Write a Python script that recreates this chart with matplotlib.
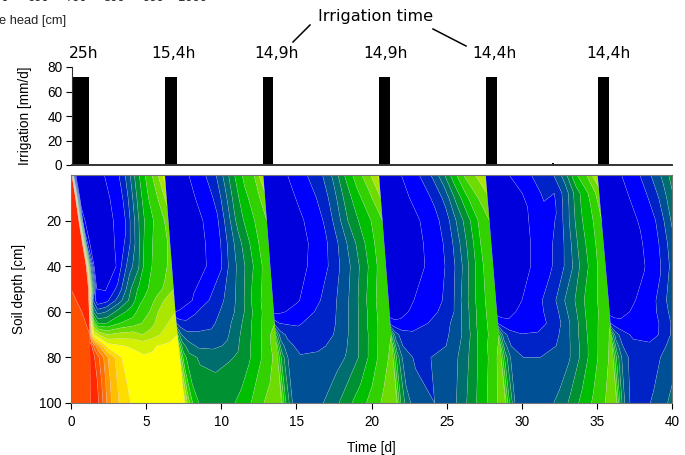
import numpy as np
import matplotlib
matplotlib.use("Agg")
import matplotlib.pyplot as plt
from matplotlib.colors import ListedColormap

plt.rcParams['font.family'] = ['Liberation Sans', 'DejaVu Sans']

# irrigation events
irr_start = [0.05, 6.2, 12.7, 20.45, 27.6, 32.0, 35.05]
irr_dur = [1.1, 0.78, 0.73, 0.73, 0.73, 0.1, 0.78]
irr_rate = [72, 72, 72, 72, 72, 2, 72]
irr_labels = ['25h', '15,4h', '14,9h', '14,9h', '14,4h', '14,4h']
irr_label_x = [0.8, 6.75, 13.65, 20.9, 28.15, 35.8]

legend_ticks = ['500', '600', '700', '800', '900', '1000']
legend_x = [-12, 27, 65, 103, 142, 178]

band_colors = ['#0000dc', '#0000ff', '#0023c8', '#005096', '#006e6e', '#009132',
               '#00be00', '#32d200', '#6edc00', '#aae600', '#d2f000', '#ffff00',
               '#ffdc00', '#ffbe00', '#ff9600', '#ff6e00', '#ff5000', '#ff2800']
levels = np.arange(0, 19)

# wetting front position [d] at depth 0, 60, 100
front_depth = [0, 60, 100]
fronts = [[6.25, 6.95, 7.55], [12.8, 13.5, 14.0], [20.5, 21.2, 21.67],
          [27.6, 28.35, 28.9], [35.05, 35.85, 36.3], [42.25, 43.0, 43.5]]

# first front, drier soil to the left of it
first_depth = [0, 10, 20, 30, 40, 50, 55, 60, 65, 70, 80, 100]
first_front = [0.05, 0.3, 0.5, 0.75, 1.0, 1.15, 1.18, 1.2, 1.22, 1.25, 1.27, 1.3]

# dry wedge left of the first front
wedge_depth = [0, 40, 50, 60, 70, 80, 100]
wedge_frac = [0, 0.5, 1]
wedge = [[17.5, 17.5, 17.5],
         [17.5, 17.5, 17.5],
         [17, 17.5, 17.5],
         [16.5, 16.9, 17.4],
         [16.5, 16.5, 17],
         [16.5, 16.5, 16.9],
         [16.5, 16.5, 16.9]]

frac0 = [0, .02, .05, .1, .2, .35, .5, .6, .7, .8, .9, 1]
depth0 = [0, 10, 20, 30, 40, 50, 55, 60, 65, 70, 75, 80, 90, 100]
cycle0 = [[17, 4, .3, .3, .5, 1, 1.9, 3.4, 5.6, 7.2, 8.5, 10.5],
          [17, 6, .6, .35, .4, .85, 1.7, 3.4, 5.6, 7, 8, 9.3],
          [17, 8, 1.5, .4, .4, .8, 1.6, 3.5, 5.6, 6.8, 7.4, 8.5],
          [16, 9, 2.5, .45, .5, .85, 2.2, 4, 6, 7, 7.5, 8.2],
          [17, 11, 5, .5, .6, 1, 3.5, 4.7, 6.6, 7.2, 7.6, 8.5],
          [17, 12, 6, 1, .9, 2.3, 5, 6.3, 7, 7.6, 8.2, 9],
          [16, 10, 3, 1.2, 1.6, 3.5, 5.5, 6.8, 7.5, 8.3, 9.2, 9.7],
          [16, 10, 5, 3.5, 4, 5.5, 6.5, 7.5, 8, 9, 9.7, 10],
          [16, 12, 8, 6, 6, 7, 7.5, 8, 8.5, 9.5, 10, 10.5],
          [16, 13, 11, 10, 9, 9.4, 9.5, 9, 9.5, 10, 10.4, 11],
          [17.5, 17, 15.5, 14, 11.6, 11.1, 10.8, 10.7, 10.9, 11.1, 11.3, 11.5],
          [17.5, 17.5, 17, 16, 14, 12, 11.4, 11.1, 11.1, 11.3, 11.5, 11.5],
          [17.5, 17.5, 17.5, 16.5, 14.2, 12.2, 11.5, 11.5, 11.5, 11.5, 11.5, 11.5],
          [17.5, 17.5, 17.5, 16.8, 14.3, 12.4, 11.6, 11.5, 11.5, 11.5, 11.5, 11.5]]

frac = [0, .04, .1, .2, .35, .5, .6, .7, .8, .9, 1]
depth = [0, 10, 20, 30, 40, 55, 60, 65, 70, 75, 80, 100]
cycle1 = [[.2, .2, .4, .8, 1.5, 2.7, 4.2, 5.9, 7.2, 7.9, 10],
          [.2, .2, .35, .7, 1.2, 2.2, 3.8, 5.6, 6.8, 7.5, 8.6],
          [.2, .2, .3, .6, 1, 1.9, 3.5, 5.3, 6.4, 7.2, 8],
          [.2, .2, .3, .55, .95, 1.8, 3.3, 4.7, 5.9, 7, 8],
          [.2, .2, .3, .6, 1, 1.9, 3.4, 4.5, 5.7, 6.8, 8],
          [.4, .4, .6, 1.1, 2, 3, 3.8, 4.9, 6.3, 7.2, 8],
          [1, 1.1, 1.4, 1.9, 2.6, 3.2, 4, 5, 6.2, 7.2, 8],
          [3, 2.4, 2.2, 2.4, 2.8, 3.5, 4.4, 5.3, 6.4, 7.3, 8],
          [6, 4, 3.3, 3.2, 3.2, 3.8, 4.7, 5.5, 6.5, 7.4, 8.7],
          [8, 5.5, 4.5, 3.8, 3.7, 4.2, 4.9, 5.7, 6.6, 7.5, 8.7],
          [9, 6.5, 5.3, 4.9, 4.8, 4.9, 5.1, 5.8, 6.7, 7.5, 8.5],
          [10.5, 8.5, 6.5, 5.5, 5.4, 5.9, 6.4, 7.1, 7.9, 8.4, 9]]

cycle2 = [[.3, .3, .5, .95, 1.8, 2.85, 4.15, 6, 7.4, 8.55, 10.3],
          [.2, .2, .4, .75, 1.35, 2.4, 3.7, 5.4, 6.7, 7.7, 9],
          [.2, .2, .3, .6, 1.1, 2.1, 3.4, 5, 6.1, 7, 8],
          [.2, .2, .28, .55, 1.02, 1.9, 3, 4.3, 5.6, 6.8, 8],
          [.2, .2, .3, .6, 1.1, 2, 3, 4.1, 5.4, 6.7, 8],
          [.3, .3, .45, .85, 1.6, 2.6, 3.4, 4.5, 5.9, 7.1, 8],
          [.7, .8, 1, 1.4, 2, 2.7, 3.5, 4.6, 5.9, 7.1, 8],
          [2.5, 2, 1.9, 1.9, 2.3, 2.8, 3.6, 4.7, 6, 7.1, 8],
          [6, 3.5, 2.8, 2.3, 2.5, 3, 3.7, 4.8, 6, 7.2, 8],
          [7.5, 4.5, 3.3, 2.7, 2.8, 3.2, 3.9, 4.9, 6.1, 7.3, 8.2],
          [8, 5.5, 3.7, 3.1, 3.2, 3.5, 4.1, 5, 6.2, 7.4, 8.4],
          [8.5, 6, 3.9, 3.3, 3.9, 5, 5.9, 6.7, 7.5, 8.3, 8.9]]

cycle3 = [[.3, .3, .5, .95, 1.75, 3.15, 4.7, 6.6, 8.1, 9, 10],
          [.2, .2, .4, .75, 1.3, 2.2, 3.3, 5.2, 6.8, 7.9, 8.8],
          [.2, .2, .3, .6, 1, 1.75, 2.6, 4.2, 5.7, 7.1, 8],
          [.2, .2, .28, .55, .93, 1.6, 2.4, 3.9, 5.5, 7, 8],
          [.2, .2, .3, .55, .95, 1.6, 2.4, 3.8, 5.5, 6.9, 8],
          [.3, .3, .45, .85, 1.5, 2, 2.85, 4.4, 5.9, 7, 8],
          [.5, .55, .7, 1.1, 1.6, 2.2, 3, 4.4, 5.9, 7, 8],
          [1.5, 1.2, 1.2, 1.5, 2, 2.6, 3.3, 4.5, 6, 7, 8],
          [6, 3.5, 2.5, 2.2, 2.4, 2.8, 3.4, 4.5, 6, 7, 8],
          [7.5, 4.5, 3, 2.4, 2.5, 3, 3.7, 4.8, 6.1, 7.2, 8.2],
          [8, 5.5, 3.5, 2.9, 3, 3.3, 4, 5, 6.2, 7.2, 8.5],
          [8.5, 6, 4.3, 3.3, 3, 3.5, 4.5, 5.6, 6.7, 7.6, 8.9]]

depth4 = [0, 8, 14, 20, 30, 40, 55, 60, 65, 70, 75, 80, 100]
cycle4 = [[.3, .3, .5, .95, 1.75, 2.4, 2.9, 4.4, 6.8, 8, 10],
          [.2, .2, .35, .7, 1.1, 2.15, 2, 3.5, 5.6, 7, 8.5],
          [.2, .2, .3, .6, 1, 1.9, 1.95, 3.6, 5.7, 6.8, 8.2],
          [.2, .2, .3, .6, 1, 1.75, 2.05, 3.8, 5.7, 6.7, 8],
          [.2, .2, .28, .58, 1, 1.75, 2.3, 3.8, 5.6, 6.6, 8],
          [.2, .2, .3, .6, 1.05, 1.8, 2.6, 3.9, 5.5, 6.6, 8],
          [.3, .3, .45, .85, 1.6, 2.6, 3.9, 5, 6.2, 7, 8],
          [.5, .55, .7, 1.15, 1.7, 2.4, 3.7, 4.9, 6.2, 7, 8],
          [2, 1.4, 1.2, 1.3, 1.65, 2.3, 3.5, 4.8, 6.2, 7.1, 8],
          [6, 3.5, 2.5, 2.05, 2.1, 2.7, 3.6, 4.9, 6.2, 7.2, 8.2],
          [7.5, 4.5, 3, 2.4, 2.4, 3, 3.7, 4.9, 6.2, 7.3, 8.3],
          [8, 5.5, 3.5, 3, 3, 3.3, 3.8, 5, 6.3, 7.4, 8.4],
          [8.5, 6, 3.5, 3.2, 3.6, 4.3, 5.4, 6.4, 7.2, 8, 8.9]]

cycle5 = [[.3, .3, .5, .9, 1.6, 3.1, 4.2, 5.6, 7.2, 8.5, 10],
          [.2, .2, .4, .75, 1.25, 2.4, 3.7, 5.2, 6.8, 8, 8.9],
          [.2, .2, .3, .6, 1.05, 2, 3.3, 5, 6.5, 7.5, 8],
          [.2, .2, .28, .52, .93, 1.85, 3.1, 4.6, 6.1, 7.1, 8],
          [.2, .2, .3, .5, .9, 1.85, 3.1, 4.5, 6, 7, 8],
          [.3, .3, .45, .8, 1.4, 2.4, 4, 5, 6.2, 7, 8],
          [.5, .55, .7, 1.05, 1.6, 2.3, 3.8, 4.9, 6.2, 7, 8],
          [2, 1.4, 1.2, 1.2, 1.6, 2.2, 3.5, 4.8, 6.2, 7.1, 8],
          [6, 3.5, 2.5, 1.8, 1.4, 2.4, 3.6, 4.9, 6.2, 7.2, 8.2],
          [7.5, 4.5, 3, 2.3, 2.3, 3, 3.8, 4.9, 6.2, 7.3, 8.3],
          [8, 5.5, 3.3, 2.6, 2.7, 3.2, 3.9, 5, 6.3, 7.4, 8.4],
          [8.5, 5.5, 3.1, 2.7, 3.1, 4.2, 5, 6, 7, 8, 8.9]]


def px_axes(fig, x0, x1, ytop, ybot):
    return fig.add_axes([x0 / 685, 1 - ybot / 455, (x1 - x0) / 685, (ybot - ytop) / 455])


def draw_cycle(ax, rows, fracs, values, left, right):
    # every cycle gets its own mesh so the front stays a sharp edge
    rows = np.array(rows, dtype=float)
    left = np.array(left)[:, None]
    right = np.array(right)[:, None]
    X = left + np.array(fracs)[None, :] * (right - left)
    Y = np.repeat(rows[:, None], len(fracs), axis=1)
    Z = np.array(values)
    ax.contourf(X, Y, Z, levels=levels, cmap=cmap, vmin=0, vmax=18, antialiased=True)
    ax.contour(X, Y, Z, levels=levels, colors='#d0d0f0', linewidths=0.35, alpha=0.45)


cmap = ListedColormap(band_colors)
fig = plt.figure(figsize=(6.85, 4.55), dpi=100)

ax1 = px_axes(fig, 72, 672, 67, 165)
ax1.bar(irr_start, irr_rate, width=irr_dur, align='edge', color='black')
ax1.set_xlim(0, 40)
ax1.set_ylim(0, 80)
ax1.set_yticks([0, 20, 40, 60, 80])
ax1.set_xticks([])
ax1.tick_params(axis='y', labelsize=9.8, length=4, width=0.8, pad=3)
ax1.spines['top'].set_visible(False)
ax1.spines['right'].set_visible(False)
ax1.spines['left'].set_color('#333333')
ax1.spines['bottom'].set_color('#333333')
ax1.spines['bottom'].set_linewidth(1.4)
ax1.set_ylabel('Irrigation [mm/d]', fontsize=9.8, labelpad=11)
for x, lab in zip(irr_label_x, irr_labels):
    ax1.text(x, 85, lab, ha='center', va='bottom', fontsize=11.2, family='DejaVu Sans')

ax2 = px_axes(fig, 71, 672, 175, 403)
draw_cycle(ax2, wedge_depth, wedge_frac, wedge, [0] * 7, np.interp(wedge_depth, first_depth, first_front))
draw_cycle(ax2, depth0, frac0, cycle0, np.interp(depth0, first_depth, first_front),
           np.interp(depth0, front_depth, fronts[0]))
cycle_tables = [(depth, cycle1), (depth, cycle2), (depth, cycle3), (depth4, cycle4), (depth, cycle5)]
for i, (rows, table) in enumerate(cycle_tables):
    draw_cycle(ax2, rows, frac, table, np.interp(rows, front_depth, fronts[i]),
               np.interp(rows, front_depth, fronts[i + 1]))
ax2.set_xlim(0, 40)
ax2.set_ylim(100, 0)
ax2.set_xticks([0, 5, 10, 15, 20, 25, 30, 35, 40])
ax2.set_yticks([20, 40, 60, 80, 100])
ax2.tick_params(labelsize=9.8, length=4, width=0.8, pad=5)
ax2.tick_params(axis='y', pad=3)
for s in ax2.spines.values():
    s.set_color('#777777')
    s.set_linewidth(0.8)
ax2.set_ylabel('Soil depth [cm]', fontsize=9.8, labelpad=9)
ax2.set_xlabel('Time [d]', fontsize=9.8, labelpad=8)

# stray legend of the pressure head, cut by the page edge
for x, lab in zip(legend_x, legend_ticks):
    fig.text(x / 685, 1.004, lab, ha='left', va='center', fontsize=9.3, color='#222222')
fig.text(-1 / 685, 1 - 21 / 455, 'e head [cm]', ha='left', va='center', fontsize=9.3, color='#222222')

fig.text(375.5 / 685, 1 - 17 / 455, 'Irrigation time', ha='center', va='center', fontsize=11.6, family='DejaVu Sans')
fig.add_artist(plt.Line2D([293 / 685, 310 / 685], [1 - 42 / 455, 1 - 25 / 455], color='black', lw=1.1))
fig.add_artist(plt.Line2D([433 / 685, 466 / 685], [1 - 29 / 455, 1 - 46 / 455], color='black', lw=1.1))

fig.savefig('out.png', dpi=100)
